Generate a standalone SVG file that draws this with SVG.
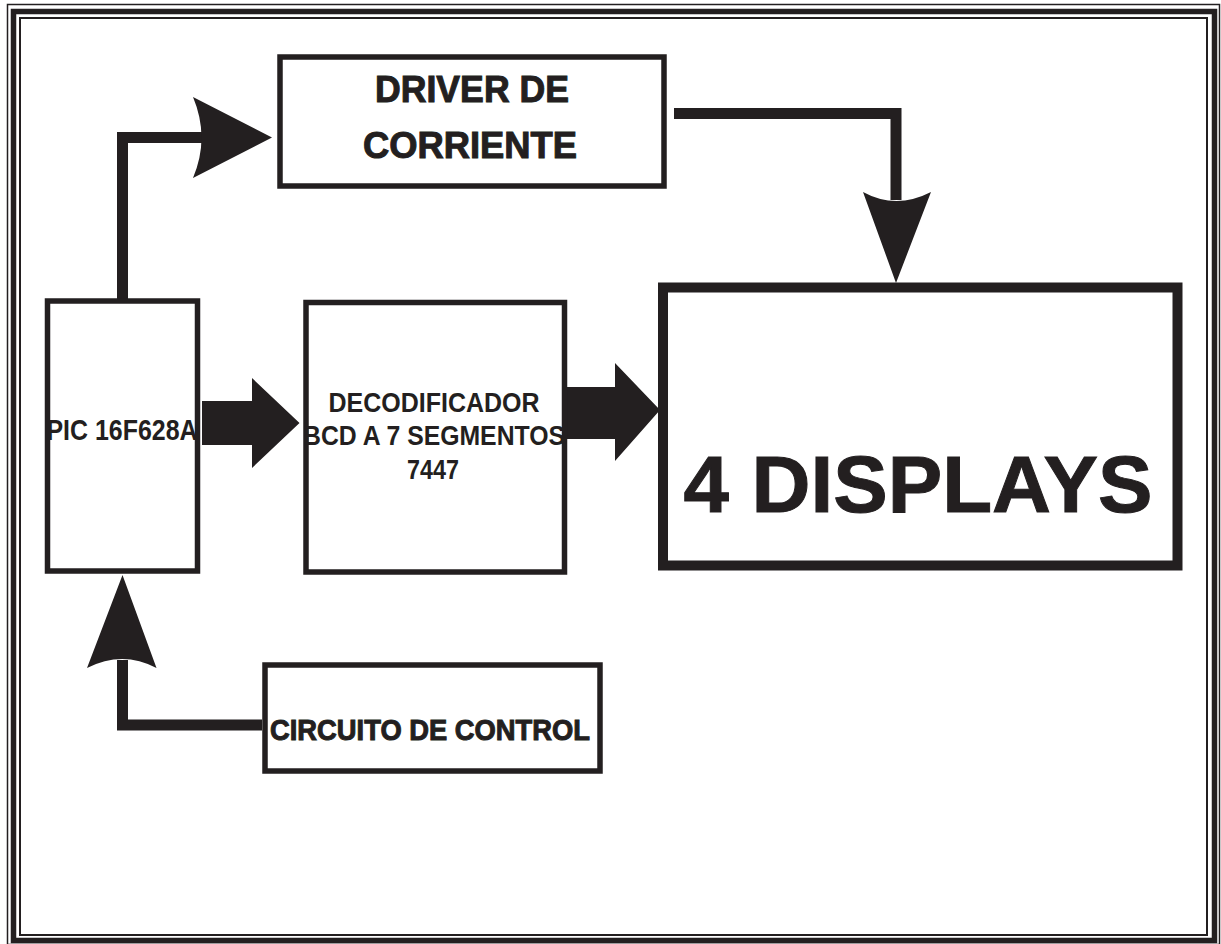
<svg xmlns="http://www.w3.org/2000/svg" width="1221" height="944" viewBox="0 0 1221 944">
<style>
.box{fill:#fff;stroke:#231f20;stroke-width:5.5}
.ln{fill:none;stroke:#231f20;stroke-width:11;stroke-linejoin:miter;stroke-linecap:butt}
.head{fill:#231f20;stroke:none}
.t{font-family:"Liberation Sans",Arial,sans-serif;font-weight:bold;fill:#231f20;text-anchor:middle}
.heavy{stroke:#231f20;stroke-width:1}
</style>
<rect x="0" y="0" width="1221" height="944" fill="#fff"/>
<g id="frame" fill="none" stroke="#231f20">
<rect x="7.5" y="4.5" width="1212" height="940" stroke-width="1.5"/>
<rect x="13.5" y="11.5" width="1201" height="929" stroke-width="5.5"/>
<rect x="20" y="18" width="1187" height="917" stroke-width="2"/>
</g>
<g id="connectors">
<path class="ln" d="M122.5,299 V137.5 H205"/>
<path class="head" d="M193,97 L272,137.5 L193,178 Q210,137.5 193,97 Z"/>
<path class="ln" d="M674,113.5 H896 V200"/>
<path class="head" d="M863,192 L896,283 L931,192 Q896,210 863,192 Z"/>
<path class="head" d="M202,401 H252 V378 L299.5,423 L252,468 V445 H202 Z"/>
<path class="head" d="M567,387 H615 V363 L660,410 L615,461 V439 H567 Z"/>
<path class="ln" d="M262,725 H122.5 V660"/>
<path class="head" d="M87,668 L122.5,575 L156.5,668 Q122.5,650 87,668 Z"/>
</g>
<g id="driver">
<rect class="box" x="280" y="57" width="384" height="129"/>
<text class="t heavy" x="472" y="102" font-size="36" textLength="194" lengthAdjust="spacingAndGlyphs">DRIVER DE</text>
<text class="t heavy" x="470" y="158" font-size="36" textLength="214" lengthAdjust="spacingAndGlyphs">CORRIENTE</text>
</g>
<g id="pic">
<rect class="box" x="47.5" y="301" width="150" height="270"/>
<text class="t" x="122" y="440" font-size="30" textLength="151" lengthAdjust="spacingAndGlyphs">PIC 16F628A</text>
</g>
<g id="decodificador">
<rect class="box" x="306" y="302.5" width="258.5" height="269.5"/>
<text class="t" x="434" y="412" font-size="27" textLength="211" lengthAdjust="spacingAndGlyphs">DECODIFICADOR</text>
<text class="t" x="434" y="445" font-size="27" textLength="262" lengthAdjust="spacingAndGlyphs">BCD A 7 SEGMENTOS</text>
<text class="t" x="433" y="479" font-size="27" textLength="52" lengthAdjust="spacingAndGlyphs">7447</text>
</g>
<g id="displays">
<rect class="box" x="663" y="287.5" width="514.5" height="278" style="stroke-width:10"/>
<text class="t heavy" x="918" y="512" font-size="80" textLength="469" lengthAdjust="spacingAndGlyphs">4 DISPLAYS</text>
</g>
<g id="circuito">
<rect class="box" x="265" y="665" width="335" height="106"/>
<text class="t heavy" x="430" y="740" font-size="29" textLength="320" lengthAdjust="spacingAndGlyphs">CIRCUITO DE CONTROL</text>
</g>
</svg>
